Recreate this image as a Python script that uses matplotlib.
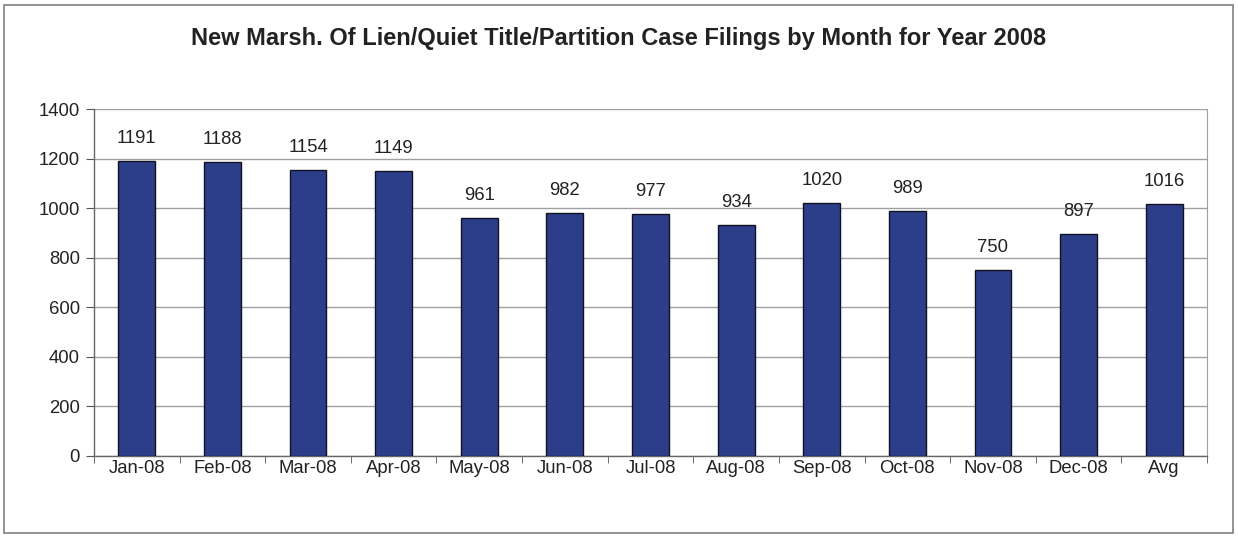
import matplotlib
matplotlib.use("Agg")
import matplotlib.pyplot as plt
from matplotlib.patches import Rectangle

categories = ["Jan-08", "Feb-08", "Mar-08", "Apr-08", "May-08", "Jun-08", "Jul-08",
              "Aug-08", "Sep-08", "Oct-08", "Nov-08", "Dec-08", "Avg"]
values = [1191, 1188, 1154, 1149, 961, 982, 977, 934, 1020, 989, 750, 897, 1016]
yticks = [0, 200, 400, 600, 800, 1000, 1200, 1400]
title = "New Marsh. Of Lien/Quiet Title/Partition Case Filings by Month for Year 2008"

plt.rcParams['font.family'] = ['Liberation Sans', 'DejaVu Sans']

fig = plt.figure(figsize=(12.38, 5.38), dpi=100)
fig.patches.append(Rectangle((4/1238, 5/538), 1229/1238, 528/538, transform=fig.transFigure,
                             fill=False, edgecolor="#808080", linewidth=1.2))
ax = fig.add_axes([94/1238, 1 - 456/538, (1207-94)/1238, (456-109)/538])

x = list(range(len(categories)))
bars = ax.bar(x, values, width=0.43, color="#2C3E8A", edgecolor="#111122", linewidth=1.0, zorder=3)
for xi, v in zip(x, values):
    ax.text(xi, v + 72, str(v), ha="center", va="baseline", fontsize=13.3, color="#222222")

ax.set_xlim(-0.5, len(categories) - 0.5)
ax.set_ylim(0, 1400)
ax.set_yticks(yticks)
ax.set_yticklabels([str(t) for t in yticks], fontsize=13.3, color="#222222")
ax.set_xticks(x)
ax.set_xticklabels(categories, fontsize=13.3, color="#222222")
ax.tick_params(axis="x", length=0, pad=3)
ax.set_xticks([i + 0.5 for i in range(-1, len(categories))], minor=True)
ax.tick_params(axis="x", which="minor", length=5, color="#555555", direction="out")
ax.tick_params(axis="y", length=6, color="#555555", direction="out", pad=4)
ax.yaxis.grid(True, color="#A0A0A0", linewidth=1.0, zorder=0)
ax.set_axisbelow(True)
for s in ["left", "bottom"]:
    ax.spines[s].set_color("#666666")
    ax.spines[s].set_linewidth(1.0)
ax.spines["top"].set_visible(False)
ax.spines["right"].set_color("#A0A0A0")

fig.text(0.5, 1 - 39/538, title, ha="center", va="center", fontsize=17, fontweight="bold", color="#222222")

fig.savefig("out.png", dpi=100)
